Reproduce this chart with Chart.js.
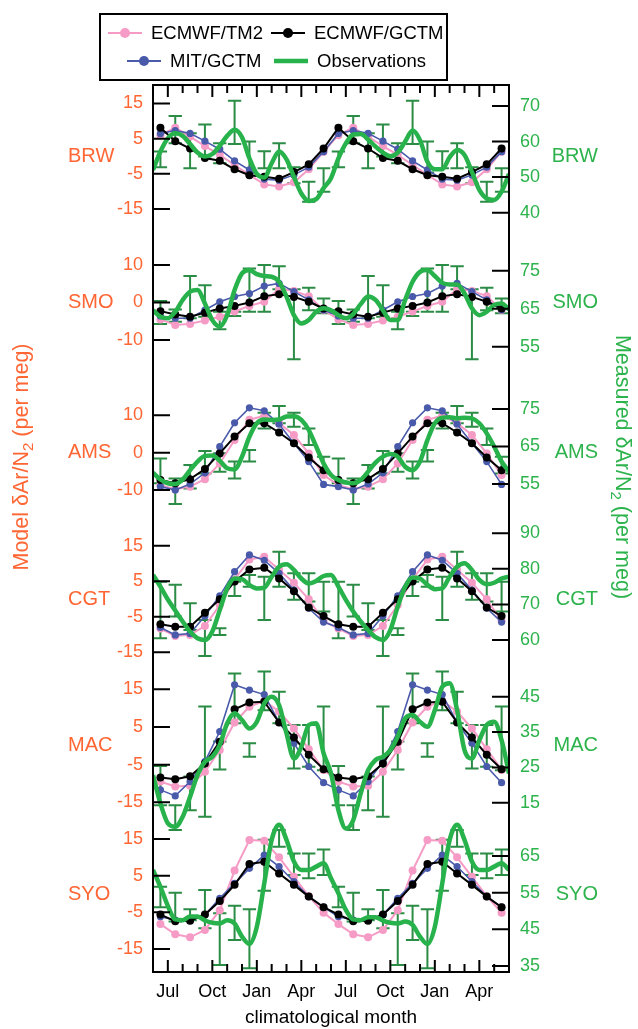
<!DOCTYPE html>
<html>
<head>
<meta charset="utf-8">
<script src="https://cdn.jsdelivr.net/npm/chart.js@4.4.1/dist/chart.umd.min.js"></script>
<style>
  html, body { margin: 0; padding: 0; background: #fff; }
  canvas { display: block; }
</style>
</head>
<body>
<canvas id="chart" width="638" height="1029"></canvas>
<script>
// x runs in months from 1 June, two climatological years (0..24)
const monthNames = ['Jun', 'Jul', 'Aug', 'Sep', 'Oct', 'Nov', 'Dec', 'Jan', 'Feb', 'Mar', 'Apr', 'May'];
const labelledMonths = [1, 4, 7, 10, 13, 16, 19, 22];

// model series, one value per month Jun..May (left axis, per meg)
const brwTm2  = [6.0, 8.1, 5.6, 2.9, 0.4, -2.5, -5.3, -8.0, -8.6, -7.4, -3.7, 1.3];
const brwGctm = [8.1, 4.3, 2.2, -0.5, -1.3, -3.7, -5.4, -5.8, -6.4, -4.5, -2.3, 2.2];
const brwMit  = [6.5, 7.3, 6.5, 4.3, 2.0, -1.3, -3.9, -6.5, -6.8, -5.3, -3.1, 1.3];
const smoTm2  = [-4.5, -6.0, -5.7, -4.8, -3.8, -2.4, -0.9, 0.2, 3.6, 3.1, 1.7, -2.0];
const smoGctm = [-2.3, -3.2, -3.8, -2.7, -1.6, -0.9, 0.0, 1.7, 2.2, 1.5, 0.2, -1.6];
const smoMit  = [-3.6, -4.2, -4.2, -2.0, 0.2, 1.6, 2.4, 4.4, 5.1, 2.9, 0.7, -2.0];
const amsTm2  = [-8.7, -9.8, -9.1, -7.1, -2.9, 3.4, 8.8, 9.9, 7.9, 4.7, -0.2, -6.0];
const amsGctm = [-7.3, -8.2, -7.1, -4.4, -0.2, 4.3, 7.9, 7.9, 5.4, 2.5, -1.3, -4.7];
const amsMit  = [-9.1, -10.0, -8.4, -5.4, 1.6, 8.0, 12.0, 11.2, 7.6, 2.5, -2.4, -8.5];
const cgtTm2  = [-8.3, -10.4, -10.1, -7.6, -1.7, 5.5, 11.1, 11.9, 8.2, 4.6, -0.1, -6.2];
const cgtGctm = [-7.1, -7.8, -7.8, -3.9, -0.1, 4.9, 8.3, 8.8, 5.8, 2.2, -2.4, -4.8];
const cgtMit  = [-8.0, -10.1, -9.7, -4.8, 0.9, 7.7, 12.4, 10.9, 7.2, 2.5, -2.6, -6.5];
const macTm2  = [-9.5, -10.8, -10.6, -6.9, -1.1, 6.2, 10.4, 11.9, 9.1, 4.6, -0.9, -6.4];
const macGctm = [-8.4, -8.9, -8.1, -4.7, 1.1, 9.7, 11.5, 11.7, 6.2, 2.2, -2.4, -6.2];
const macMit  = [-11.7, -13.3, -9.5, -4.2, 3.8, 16.2, 14.8, 13.6, 6.2, 0.7, -5.5, -9.8];
const syoTm2  = [-8.2, -11.0, -11.8, -9.8, -4.4, 6.4, 14.7, 14.5, 10.0, 4.7, -0.6, -5.1];
const syoGctm = [-5.6, -7.4, -7.3, -5.6, -1.9, 2.5, 8.2, 8.8, 5.6, 2.5, -0.7, -3.6];
const syoMit  = [-6.2, -7.1, -7.1, -5.7, -1.2, 2.9, 7.0, 10.6, 7.5, 3.4, -0.7, -3.6];

// observations: monthly error bar range (right axis, per meg)
const brwObsLo = [52.8, 59.5, 52.5, 55.8, 53.9, 59.3, 51.3, 52.5, 52.5, 48.3, 43.1, 45.9];
const brwObsHi = [57.2, 67.2, 62.3, 64.8, 59.5, 71.5, 60.0, 57.3, 59.5, 52.8, 48.7, 52.5];
const smoObsLo = [61.0, 61.6, 62.5, 62.9, 59.6, 63.1, 64.2, 64.2, 70.1, 51.7, 64.6, 63.8];
const smoObsHi = [67.0, 64.8, 73.6, 71.2, 64.2, 64.2, 75.6, 76.5, 76.2, 70.1, 70.5, 67.7];
const amsObsLo = [55.2, 49.7, 53.8, 57.8, 58.3, 56.5, 61.0, 69.8, 71.2, 70.3, 65.4, 57.8];
const amsObsHi = [61.8, 56.5, 60.1, 63.8, 63.2, 61.0, 64.1, 74.0, 75.8, 74.0, 69.8, 62.3];
const cgtObsLo = [60.5, 66.6, 62.8, 55.5, 61.4, 72.4, 75.0, 65.6, 75.0, 71.3, 70.8, 68.0];
const cgtObsHi = [76.4, 75.5, 70.3, 65.6, 63.3, 76.4, 78.3, 77.8, 84.8, 78.8, 78.8, 76.4];
const macObsLo = [14.3, 7.3, 12.9, 11.0, 24.4, 37.5, 28.0, 41.2, 37.5, 24.7, 25.2, 24.2];
const macObsHi = [25.4, 14.3, 22.4, 42.2, 32.3, 51.6, 31.8, 52.1, 46.4, 37.0, 37.0, 42.2];
const syoObsLo = [51.0, 47.1, 47.5, 45.3, 35.3, 42.1, 34.4, 55.5, 67.5, 59.8, 58.9, 59.8];
const syoObsHi = [56.6, 55.0, 50.5, 55.7, 49.4, 51.4, 50.5, 69.4, 72.1, 65.7, 65.7, 66.8];

// observation fit, read every half month from 1 Jun (0) to 1 Jun two years on (24)
const brwObsFit = [52.0, 57.2, 60.9, 62.3, 61.6, 59.3, 56.9, 55.8, 56.5, 58.8, 61.6, 63.3, 61.2, 55.3, 50.9, 49.9, 53.9, 57.2, 55.0, 50.1, 45.4, 43.3, 43.8, 46.9,
  49.7, 55.3, 59.5, 62.0, 62.1, 60.6, 58.6, 56.9, 55.9, 56.9, 60.0, 63.1, 60.4, 54.3, 52.2, 52.2, 55.6, 57.6, 56.2, 51.5, 46.4, 44.0, 43.6, 45.9, 50.9];
const smoObsFit = [64.6, 62.9, 62.5, 64.2, 67.3, 69.5, 69.9, 66.4, 62.0, 60.3, 63.3, 69.9, 74.3, 75.2, 74.1, 73.6, 73.4, 72.1, 68.2, 63.3, 61.1, 62.0, 64.2, 65.1,
  64.6, 63.3, 62.5, 63.6, 66.2, 68.2, 67.3, 64.6, 62.0, 62.0, 67.3, 72.1, 74.7, 75.2, 73.6, 71.8, 71.4, 71.4, 69.0, 65.1, 63.3, 64.2, 66.0, 66.4, 64.8];
const amsObsFit = [58.0, 56.2, 55.2, 55.0, 56.2, 58.7, 61.0, 62.5, 62.6, 61.2, 59.2, 58.9, 62.3, 67.6, 71.2, 72.2, 72.1, 72.2, 73.0, 73.1, 72.1, 69.4, 65.0, 60.5,
  57.4, 56.1, 55.4, 55.2, 56.1, 58.3, 60.7, 62.3, 63.0, 62.3, 59.6, 58.7, 61.0, 66.7, 71.2, 72.7, 72.8, 72.5, 72.7, 72.5, 71.2, 68.5, 65.0, 61.0, 58.3];
const cgtObsFit = [78.3, 75.0, 71.4, 68.3, 65.2, 62.4, 60.5, 60.0, 62.4, 68.4, 74.5, 77.3, 77.1, 75.5, 74.5, 74.7, 77.8, 80.6, 81.3, 79.7, 77.3, 75.9, 76.6, 78.0,
  78.3, 75.0, 71.3, 68.0, 65.2, 62.8, 60.8, 60.0, 62.8, 69.4, 75.0, 77.6, 77.3, 75.5, 74.3, 74.5, 77.8, 80.6, 81.6, 79.7, 76.9, 75.7, 76.1, 77.3, 77.8];
const macObsFit = [22.8, 14.8, 9.2, 8.2, 11.0, 16.7, 22.8, 26.6, 28.0, 31.3, 37.5, 40.3, 38.4, 36.0, 37.9, 43.1, 45.0, 42.6, 34.6, 27.5, 30.8, 37.0, 37.5, 29.0,
  23.3, 12.9, 7.7, 10.1, 17.6, 24.2, 27.1, 28.0, 29.9, 33.7, 38.9, 39.8, 37.9, 36.5, 41.2, 47.8, 48.8, 41.2, 29.9, 27.5, 32.7, 37.0, 37.9, 32.7, 23.3];
const syoObsFit = [61.2, 56.6, 51.4, 47.7, 47.5, 48.5, 48.5, 47.4, 46.8, 46.6, 47.5, 46.6, 43.0, 41.0, 45.7, 57.5, 69.4, 73.5, 69.4, 63.5, 61.2, 61.2, 62.1, 63.0,
  58.9, 54.8, 50.3, 47.7, 47.5, 48.3, 48.3, 47.4, 46.8, 46.6, 47.1, 46.2, 43.0, 41.0, 45.7, 57.5, 69.4, 73.5, 69.4, 63.5, 61.2, 61.2, 62.1, 63.0, 61.2];

// tick labels of each panel
const brwLeftTicks = [15, 5, -5, -15],  brwRightTicks = [70, 60, 50, 40];
const smoLeftTicks = [10, 0, -10],      smoRightTicks = [75, 65, 55];
const amsLeftTicks = [10, 0, -10],      amsRightTicks = [75, 65, 55];
const cgtLeftTicks = [15, 5, -5, -15],  cgtRightTicks = [90, 80, 70, 60];
const macLeftTicks = [15, 5, -5, -15],  macRightTicks = [45, 35, 25, 15];
const syoLeftTicks = [15, 5, -5, -15],  syoRightTicks = [65, 55, 45, 35];

const FONT = '"Liberation Sans", Arial, Helvetica, sans-serif';
const ORANGE = '#ff6633';
const GREEN_TEXT = '#2cb34c';
const C_TM2 = '#f59bc5', C_GCTM = '#000000', C_MIT = '#4a5aab', C_FIT = '#27b24b', C_ERR = '#2b8c45';
const CAP = 0.45;

const panels = [
  { name: 'BRW', tm2: brwTm2, gctm: brwGctm, mit: brwMit, lo: brwObsLo, hi: brwObsHi, fit: brwObsFit, lt: brwLeftTicks, rt: brwRightTicks, l: [-231.97, 20.26], r: [-173.49, 75.90] },
  { name: 'SMO', tm2: smoTm2, gctm: smoGctm, mit: smoMit, lo: smoObsLo, hi: smoObsHi, fit: smoObsFit, lt: smoLeftTicks, rt: smoRightTicks, l: [-178.53, 58.0], r: [-109.55, 123.87] },
  { name: 'AMS', tm2: amsTm2, gctm: amsGctm, mit: amsMit, lo: amsObsLo, hi: amsObsHi, fit: amsObsFit, lt: amsLeftTicks, rt: amsRightTicks, l: [-139.05, 98.43], r: [-75.13, 161.4] },
  { name: 'CGT', tm2: cgtTm2, gctm: cgtGctm, mit: cgtMit, lo: cgtObsLo, hi: cgtObsHi, fit: cgtObsFit, lt: cgtLeftTicks, rt: cgtRightTicks, l: [-104.97, 144.65], r: [-33.35, 216.05] },
  { name: 'MAC', tm2: macTm2, gctm: macGctm, mit: macMit, lo: macObsLo, hi: macObsHi, fit: macObsFit, lt: macLeftTicks, rt: macRightTicks, l: [-60.05, 175.43], r: [-32.91, 218.12] },
  { name: 'SYO', tm2: syoTm2, gctm: syoGctm, mit: syoMit, lo: syoObsLo, hi: syoObsHi, fit: syoObsFit, lt: syoLeftTicks, rt: syoRightTicks, l: [-21.27, 220.64], r: [33.36, 275.27] },
];

const twoYears = arr => arr.concat(arr);
const monthly = arr => twoYears(arr).map((v, i) => ({ x: i + 0.5, y: v }));
const halfMonthly = arr => arr.map((v, i) => ({ x: i * 0.5, y: v }));
function errorBars(lo, hi) {
  const pts = [];
  const l2 = twoYears(lo), h2 = twoYears(hi);
  l2.forEach((l, i) => {
    const x = i + 0.5, h = h2[i];
    pts.push({ x: x - CAP, y: h }, { x: x + CAP, y: h }, { x: x, y: null },
             { x: x, y: h }, { x: x, y: l }, { x: x, y: null },
             { x: x - CAP, y: l }, { x: x + CAP, y: l }, { x: x, y: null });
  });
  return pts;
}

const scales = {
  x: {
    type: 'linear', min: 0, max: 24, position: 'bottom',
    afterBuildTicks: s => { s.ticks = labelledMonths.map(v => ({ value: v })); },
    afterFit: s => { s.height = 57; },
    ticks: {
      autoSkip: false, maxRotation: 0, padding: 9, color: '#000',
      font: { size: 18, family: FONT },
      callback: v => monthNames[v % 12]
    },
    grid: { drawOnChartArea: false, drawTicks: false },
    border: { display: false },
    title: { display: true, text: 'climatological month', color: '#000', font: { size: 19, family: FONT }, padding: 0 }
  }
};
const datasets = [];
panels.forEach(p => {
  const lid = 'y' + p.name + 'L', rid = 'y' + p.name + 'R';
  scales[lid] = { axis: 'y', type: 'linear', position: 'left', display: false, min: p.l[0], max: p.l[1] };
  scales[rid] = { axis: 'y', type: 'linear', position: 'right', display: false, min: p.r[0], max: p.r[1] };
  p.lid = lid; p.rid = rid;
  datasets.push({ label: p.name + ' Observations', data: halfMonthly(p.fit), yAxisID: rid, borderColor: C_FIT,
    borderWidth: 4.5, pointRadius: 0, cubicInterpolationMode: 'monotone', order: 0 });
  datasets.push({ label: p.name + ' ECMWF/GCTM', data: monthly(p.gctm), yAxisID: lid, borderColor: C_GCTM,
    backgroundColor: C_GCTM, borderWidth: 2, pointRadius: 4, pointBorderWidth: 0, order: 1 });
  datasets.push({ label: p.name + ' MIT/GCTM', data: monthly(p.mit), yAxisID: lid, borderColor: C_MIT,
    backgroundColor: C_MIT, borderWidth: 1.6, pointRadius: 3.6, pointBorderWidth: 0, order: 2 });
  datasets.push({ label: p.name + ' ECMWF/TM2', data: monthly(p.tm2), yAxisID: lid, borderColor: C_TM2,
    backgroundColor: C_TM2, borderWidth: 2, pointRadius: 4, pointBorderWidth: 0, order: 3 });
  datasets.push({ label: p.name + ' obs range', data: errorBars(p.lo, p.hi), yAxisID: rid, borderColor: C_ERR,
    borderWidth: 2, pointRadius: 0, spanGaps: false, order: 4 });
});

const legendItems = [
  { text: 'ECMWF/TM2', color: C_TM2, marker: true, lx: 108, ly: 33 },
  { text: 'ECMWF/GCTM', color: C_GCTM, marker: true, lx: 271, ly: 33 },
  { text: 'MIT/GCTM', color: C_MIT, marker: true, lx: 127, ly: 61 },
  { text: 'Observations', color: C_FIT, marker: false, lx: 274, ly: 61 },
];

function drawParts(ctx, parts, size) {
  // parts drawn centred on 0,0 in current transform; subscripts smaller and lower
  let total = 0;
  parts.forEach(pt => { ctx.font = (pt.sub ? size * 0.7 : size) + 'px ' + FONT; pt.w = ctx.measureText(pt.t).width; total += pt.w; });
  let x = -total / 2;
  ctx.textAlign = 'left';
  ctx.textBaseline = 'middle';
  parts.forEach(pt => {
    ctx.font = (pt.sub ? size * 0.7 : size) + 'px ' + FONT;
    ctx.fillText(pt.t, x, pt.sub ? size * 0.3 : 0);
    x += pt.w;
  });
}

const decorPlugin = {
  id: 'decor',
  afterDraw(chart) {
    const ctx = chart.ctx, a = chart.chartArea, xs = chart.scales.x;
    ctx.save();
    ctx.strokeStyle = '#000';
    ctx.lineWidth = 2;
    ctx.strokeRect(a.left, a.top, a.right - a.left, a.bottom - a.top);
    ctx.beginPath();
    for (let m = 1; m < 24; m++) {
      const px = xs.getPixelForValue(m);
      const len = labelledMonths.includes(m) ? 12 : 8;
      ctx.moveTo(px, a.bottom); ctx.lineTo(px, a.bottom - len);
      ctx.moveTo(px, a.top); ctx.lineTo(px, a.top + len);
    }
    ctx.stroke();

    panels.forEach(p => {
      const ls = chart.scales[p.lid], rs = chart.scales[p.rid];
      ctx.strokeStyle = '#000';
      ctx.lineWidth = 2;
      ctx.beginPath();
      p.lt.forEach(v => { const y = ls.getPixelForValue(v); ctx.moveTo(a.left, y); ctx.lineTo(a.left + 17, y); });
      p.rt.forEach(v => { const y = rs.getPixelForValue(v); ctx.moveTo(a.right, y); ctx.lineTo(a.right - 17, y); });
      ctx.stroke();
      ctx.textBaseline = 'middle';
      ctx.font = '18px ' + FONT;
      ctx.fillStyle = ORANGE;
      ctx.textAlign = 'right';
      p.lt.forEach(v => ctx.fillText(String(v), a.left - 10, ls.getPixelForValue(v)));
      ctx.fillStyle = GREEN_TEXT;
      ctx.textAlign = 'left';
      p.rt.forEach(v => ctx.fillText(String(v), a.right + 11, rs.getPixelForValue(v)));
      const mid = (ls.getPixelForValue(p.lt[0]) + ls.getPixelForValue(p.lt[p.lt.length - 1])) / 2;
      ctx.font = '20px ' + FONT;
      ctx.fillStyle = ORANGE;
      ctx.textAlign = 'left';
      ctx.fillText(p.name, 68, mid);
      ctx.fillStyle = GREEN_TEXT;
      ctx.textAlign = 'right';
      ctx.fillText(p.name, 598, mid);
    });

    // axis titles
    ctx.fillStyle = ORANGE;
    ctx.save();
    ctx.translate(22, 457);
    ctx.rotate(-Math.PI / 2);
    drawParts(ctx, [{ t: 'Model \u03b4Ar/N' }, { t: '2', sub: true }, { t: ' (per meg)' }], 21.5);
    ctx.restore();
    ctx.fillStyle = GREEN_TEXT;
    ctx.save();
    ctx.translate(622, 467);
    ctx.rotate(Math.PI / 2);
    drawParts(ctx, [{ t: 'Measured \u03b4Ar/N' }, { t: '2', sub: true }, { t: ' (per meg)' }], 21.5);
    ctx.restore();

    // legend
    ctx.strokeStyle = '#000';
    ctx.lineWidth = 2;
    ctx.strokeRect(100, 14, 347, 66);
    ctx.font = '18.5px ' + FONT;
    ctx.textAlign = 'left';
    ctx.textBaseline = 'middle';
    legendItems.forEach(it => {
      ctx.strokeStyle = it.color;
      ctx.lineWidth = it.marker ? 2 : 4.5;
      ctx.beginPath();
      ctx.moveTo(it.lx, it.ly); ctx.lineTo(it.lx + 34, it.ly);
      ctx.stroke();
      if (it.marker) {
        ctx.fillStyle = it.color;
        ctx.beginPath();
        ctx.arc(it.lx + 17, it.ly, 5, 0, Math.PI * 2);
        ctx.fill();
      }
      ctx.fillStyle = '#000';
      ctx.fillText(it.text, it.lx + 43, it.ly + 1);
    });
    ctx.restore();
  }
};

new Chart(document.getElementById('chart'), {
  type: 'line',
  data: { datasets },
  options: {
    responsive: false,
    animation: false,
    devicePixelRatio: 1,
    parsing: true,
    layout: { padding: { left: 153, right: 129, top: 85, bottom: 0 } },
    plugins: { legend: { display: false }, tooltip: { enabled: false } },
    events: [],
    scales
  },
  plugins: [decorPlugin]
});
</script>
</body>
</html>
